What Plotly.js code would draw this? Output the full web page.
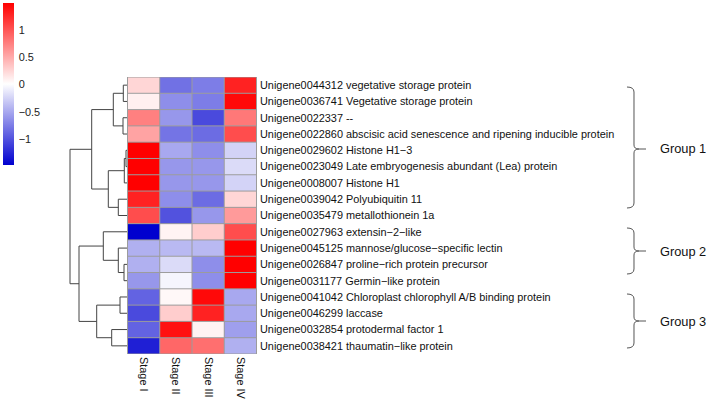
<!DOCTYPE html>
<html><head><meta charset="utf-8">
<script src="https://cdn.plot.ly/plotly-3.0.1.min.js"></script>
<style>html,body{margin:0;padding:0;background:#fff}#chart{width:708px;height:402px}</style>
</head><body><div id="chart"></div>
<script>
// ---- data ----
const stages = ['Stage I','Stage II','Stage III','Stage IV'];
const genes = [
  'Unigene0044312 vegetative storage protein',
  'Unigene0036741 Vegetative storage protein',
  'Unigene0022337 --',
  'Unigene0022860 abscisic acid senescence and ripening inducible protein',
  'Unigene0029602 Histone H1\u22123',
  'Unigene0023049 Late embryogenesis abundant (Lea) protein',
  'Unigene0008007 Histone H1',
  'Unigene0039042 Polyubiquitin 11',
  'Unigene0035479 metallothionein 1a',
  'Unigene0027963 extensin\u22122\u2212like',
  'Unigene0045125 mannose/glucose\u2212specific lectin',
  'Unigene0026847 proline\u2212rich protein precursor',
  'Unigene0031177 Germin\u2212like protein',
  'Unigene0041042 Chloroplast chlorophyll A/B binding protein',
  'Unigene0046299 laccase',
  'Unigene0032854 protodermal factor 1',
  'Unigene0038421 thaumatin\u2212like protein'
];
const stageI   = [0.25, 0.10, 0.75, 0.55, 1.50, 1.50, 1.50, 1.30, 1.05, -1.48, -0.45, -0.45, -0.60, -0.90, -1.05, -0.90, -1.30];
const stageII  = [-0.82, -0.65, -0.60, -0.80, -0.50, -0.60, -0.60, -0.65, -1.00, 0.08, -0.40, -0.20, -0.05, 0.05, 0.30, 1.40, 0.90];
const stageIII = [-0.75, -0.75, -1.05, -0.85, -0.65, -0.60, -0.60, -0.85, -0.60, 0.30, -0.40, -0.65, -0.65, 1.45, 1.30, 0.08, 0.85];
const stageIV  = [1.30, 1.45, 0.80, 1.05, -0.25, -0.20, -0.25, 0.25, 0.60, 1.05, 1.50, 1.50, 1.50, -0.50, -0.50, -0.55, -0.45];
// row dendrogram (R hclust style: negative = leaf in display order, positive = earlier merge)
const mergeA = [-1, -3, 1, -5, 4, -8, 5, 3, -12, -11, -10, -14, -16, 12, 11, 8];
const mergeB = [-2, -4, 2, -6, -7, -9, 6, 7, -13, 9, 10, -15, -17, 13, 14, 15];
const mergeH = [0.37, 0.40, 1.37, 0.10, 0.27, 0.87, 1.87, 3.53, 0.30, 0.87, 2.37, 0.70, 1.53, 3.03, 4.80, 5.70];
const groups = ['Group 1', 'Group 2', 'Group 3'];

// ---- build ----
const W = 708, H = 402;
const px = x => x / W, py = y => 1 - y / H;
const rows = genes.map((_, i) => i);
const z = rows.map(i => [stageI[i], stageII[i], stageIII[i], stageIV[i]]);

// dendrogram segments
const nodeY = [], nodeH = [];
const dx = [], dy = [];
function pos(ref) { return ref < 0 ? [-ref - 1, 0] : [nodeY[ref - 1], nodeH[ref - 1]]; }
for (let k = 0; k < mergeH.length; k++) {
  const [ya, ha] = pos(mergeA[k]);
  const [yb, hb] = pos(mergeB[k]);
  const h = mergeH[k];
  dx.push(ha, h, h, hb, null);
  dy.push(ya, ya, yb, yb, null);
  nodeY.push((ya + yb) / 2); nodeH.push(h);
}

const FAM = 'Liberation Sans, Arial, sans-serif';
const heat = {
  type: 'heatmap', x: stages, y: rows, z: z,
  colorscale: [[0, '#0000CF'], [0.5, '#FFFFFF'], [1, '#FF0000']],
  zmin: Math.min(...stageI, ...stageII, ...stageIII, ...stageIV),
  zmax: Math.max(...stageI, ...stageII, ...stageIII, ...stageIV),
  hoverinfo: 'skip',
  colorbar: {
    x: px(3), xanchor: 'left', y: py(3), yanchor: 'top',
    thickness: 11, thicknessmode: 'pixels', len: 162, lenmode: 'pixels',
    outlinewidth: 0, ticks: 'outside', ticklen: 3, tickcolor: 'rgba(0,0,0,0)', xpad: 0, ypad: 0,
    tickvals: [-1, -0.5, 0, 0.5, 1],
    tickfont: { family: FAM, size: 10.9, color: '#222' }
  }
};
const dend = {
  type: 'scatter', mode: 'lines', x: dx, y: dy, xaxis: 'x2', yaxis: 'y',
  line: { color: '#444', width: 1 }, hoverinfo: 'skip', showlegend: false, cliponaxis: false
};

const shapes = [];
for (let c = 1; c < stages.length; c++)
  shapes.push({ type: 'line', xref: 'x', yref: 'y', x0: c - 0.5, x1: c - 0.5, y0: -0.5, y1: genes.length - 0.5, line: { color: '#9c9c9c', width: 1 } });
for (let r = 1; r < genes.length; r++)
  shapes.push({ type: 'line', xref: 'x', yref: 'y', x0: -0.5, x1: stages.length - 0.5, y0: r - 0.5, y1: r - 0.5, line: { color: '#9c9c9c', width: 1 } });
shapes.push({ type: 'rect', xref: 'x', yref: 'y', x0: -0.5, x1: stages.length - 0.5, y0: -0.5, y1: genes.length - 0.5, line: { color: '#9c9c9c', width: 1 } });

// curly brackets
const braces = [[87, 208, 149], [228, 274, 251], [294, 348, 321]];
function P(x, y) { return px(x).toFixed(5) + ',' + py(y).toFixed(5); }
braces.forEach(([t, b, m]) => {
  const xv = 634, xt = 627, xn = 646;
  const path = 'M' + P(xt, t) + ' Q' + P(xv, t) + ' ' + P(xv, t + 5) + ' L' + P(xv, m - 4) +
    ' Q' + P(xv, m) + ' ' + P(xv + 5, m) + ' L' + P(xn, m) +
    ' M' + P(xv + 5, m) + ' Q' + P(xv, m) + ' ' + P(xv, m + 4) + ' L' + P(xv, b - 5) +
    ' Q' + P(xv, b) + ' ' + P(xt, b);
  shapes.push({ type: 'path', xref: 'paper', yref: 'paper', path: path, line: { color: '#555', width: 1 } });
});
const annotations = groups.map((g, i) => ({
  text: g, xref: 'paper', yref: 'paper', x: px(658), y: py(braces[i][2]), xanchor: 'left', yanchor: 'middle',
  showarrow: false, font: { family: FAM, size: 12.8, color: '#111' }
}));

const font = { family: FAM, size: 10.9, color: '#111' };
const layout = {
  width: W, height: H, margin: { l: 0, r: 0, t: 0, b: 0 },
  paper_bgcolor: '#fff', plot_bgcolor: '#fff', showlegend: false, font: font,
  xaxis: { domain: [px(127), px(257)], anchor: 'y', type: 'category', tickangle: 90, ticks: '', ticklabelstandoff: 2, showgrid: false, zeroline: false, showline: false, tickfont: font },
  yaxis: { domain: [py(354), py(77)], anchor: 'x', side: 'right', autorange: false, range: [genes.length - 0.5, -0.5], tickvals: rows, ticktext: genes, ticks: '', ticklabelstandoff: 2, showgrid: false, zeroline: false, showline: false, tickfont: font },
  xaxis2: { domain: [px(60), px(127)], anchor: 'y', autorange: false, range: [6.7, 0], visible: false, showgrid: false, zeroline: false },
  shapes: shapes, annotations: annotations
};
Plotly.newPlot('chart', [heat, dend], layout, { staticPlot: true, displayModeBar: false });
</script></body></html>
